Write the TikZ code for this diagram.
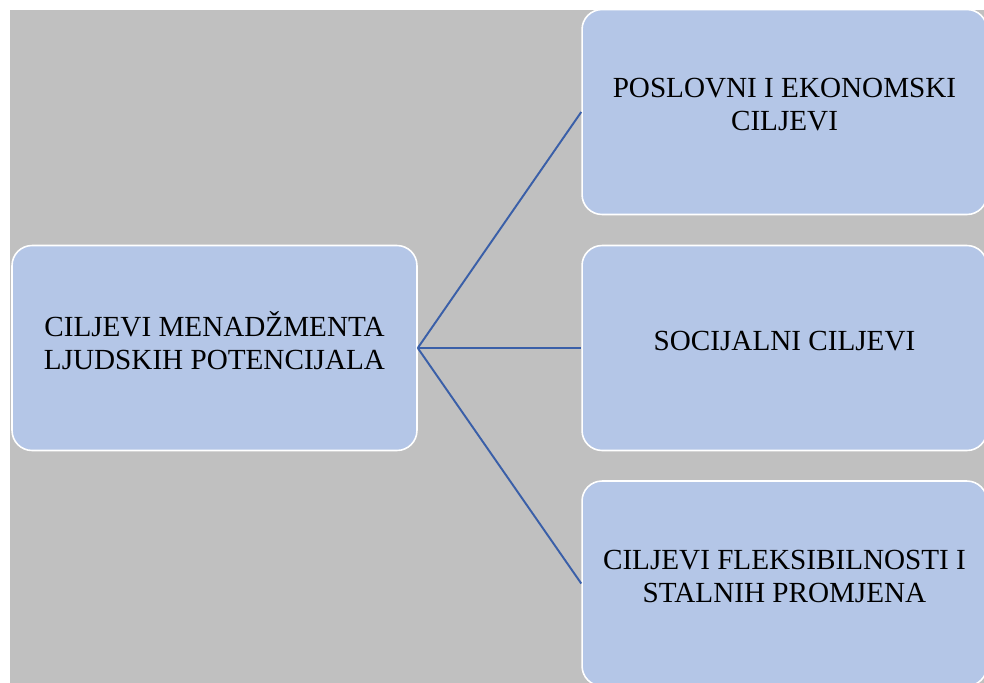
\documentclass[tikz,border=0pt]{standalone}
\usepackage{fontspec}
\setmainfont{Liberation Serif}
\usepackage{xcolor}
\usetikzlibrary{positioning}

\definecolor{boxfill}{RGB}{180,198,231}
\definecolor{backgray}{RGB}{192,192,192}
\definecolor{linkblue}{RGB}{58,95,168}

\begin{document}
\begin{tikzpicture}[x=0.02cm, y=-0.02cm,
    goalbox/.style={draw=white, line width=0.9pt, fill=boxfill, rounded corners=0.4cm,
      minimum width=8.1cm, minimum height=4.1cm, align=center, inner sep=0pt,
      text depth=0.3cm, font=\fontsize{16.6}{18.8}\selectfont},
    link/.style={draw=linkblue, line width=1.1pt}]
    % frame and grey background
    \useasboundingbox (0,0) rectangle (984,683);
    \clip (0,0) rectangle (984,683);
    \fill[white] (0,0) rectangle (984,683);
    \fill[backgray] (10,10) rectangle (984,683);
    % central goal and the three kinds of goals
    \node[goalbox] (main) at (214.5,348) {CILJEVI MENADŽMENTA\\LJUDSKIH POTENCIJALA};
    \node[goalbox] (econ) at (784.5,112) {POSLOVNI I EKONOMSKI\\CILJEVI};
    \node[goalbox] (social) at (784.5,348) {SOCIJALNI CILJEVI};
    \node[goalbox] (flex) at (784.5,583.5) {CILJEVI FLEKSIBILNOSTI I\\STALNIH PROMJENA};
    % connectors
    \draw[link] (main.east) -- (econ.west);
    \draw[link] (main.east) -- (social.west);
    \draw[link] (main.east) -- (flex.west);
\end{tikzpicture}
\end{document}
